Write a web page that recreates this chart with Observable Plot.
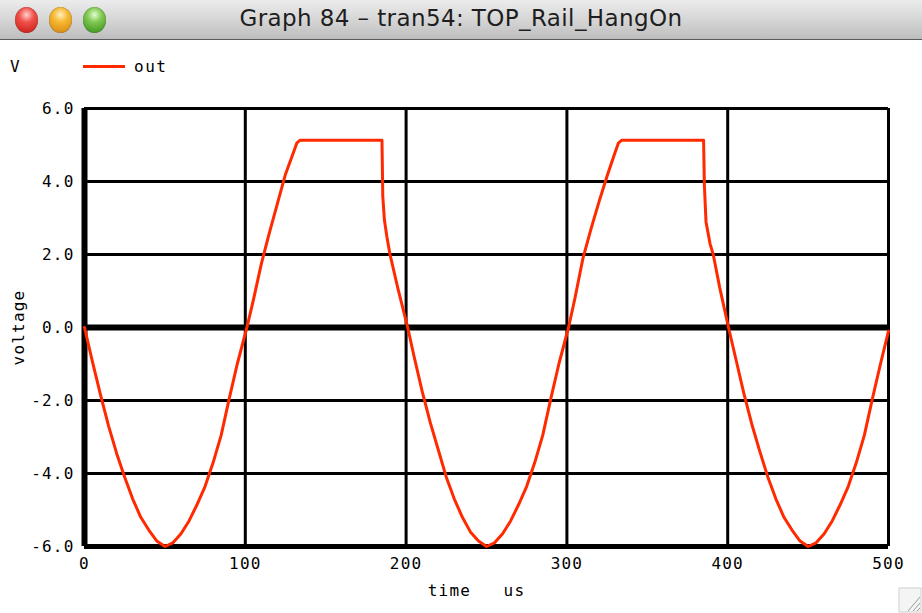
<!DOCTYPE html>
<html>
<head>
<meta charset="utf-8">
<script src="https://cdn.jsdelivr.net/npm/d3@7"></script>
<script src="https://cdn.jsdelivr.net/npm/@observablehq/plot@0.6"></script>
<style>
  html, body { margin: 0; padding: 0; background: #fff; width: 922px; height: 613px; overflow: hidden; }
  #titlebar {
    position: relative; height: 39px; border-bottom: 1px solid #5a5a5a;
    background: linear-gradient(#ececec, #d6d6d6 50%, #bdbdbd);
  }
  #title {
    position: absolute; left: 0; right: 0; top: 5px; text-align: center;
    font-family: "DejaVu Sans", sans-serif; font-size: 23px; color: #1e1e1e; letter-spacing: 0.4px;
  }
  .light { position: absolute; top: 7px; width: 23px; height: 26px; border-radius: 50%; box-shadow: inset 0 0 1px rgba(0,0,0,0.6); }
  #red { left: 15px; background: radial-gradient(circle at 50% 30%, #ffd0cc 0%, #f0504a 35%, #c01810 100%); }
  #orange { left: 49px; background: radial-gradient(circle at 50% 30%, #fff0c0 0%, #f6b830 35%, #d08010 100%); }
  #green { left: 83px; background: radial-gradient(circle at 50% 30%, #e0ffd0 0%, #80c850 35%, #308a18 100%); }
  #wrap { position: relative; width: 922px; height: 573px; }
  #legend { position: absolute; left: 0; top: 17px; width: 300px; height: 20px; font-family: "DejaVu Sans Mono", monospace; font-size: 16px; }
  #legend .v { position: absolute; left: 10px; top: 0px; }
  #legend .sw { position: absolute; left: 83px; top: 8px; width: 42px; height: 3px; background: #ff2a00; }
  #legend .name { position: absolute; left: 134px; top: 0px; letter-spacing: 1.5px; }
  #grip { position: absolute; right: 0; bottom: 0; }
</style>
</head>
<body>
<div id="titlebar">
  <div class="light" id="red"></div>
  <div class="light" id="orange"></div>
  <div class="light" id="green"></div>
  <div id="title">Graph 84 – tran54: TOP_Rail_HangOn</div>
</div>
<div id="wrap">
  <div id="legend"><span class="v">V</span><span class="sw"></span><span class="name">out</span></div>
  <div id="chart"></div>
  <svg id="grip" width="24" height="28" viewBox="0 0 24 28">
    <rect x="1" y="3" width="22" height="24" fill="#f4f4f4" stroke="#d0d0d0"/>
    <path d="M10 26 L22 12 M15 26 L22 18 M19 26 L22 23" stroke="#999" stroke-width="1"/>
  </svg>
</div>
<script>
// time in microseconds, output voltage in volts
const time = [0, 5, 10, 15, 20, 25, 30, 35, 40, 45, 50, 55, 60, 65, 70, 75, 80, 85, 90, 95,
  101, 105, 110, 115, 120, 125, 130, 132, 134, 185, 185.5, 186.5, 188, 190, 195,
  201, 205, 210, 215, 220, 225, 230, 235, 240, 245, 250, 255, 260, 265, 270, 275, 280, 285, 290, 295,
  301, 305, 310, 315, 320, 325, 330, 332, 334, 385, 385.5, 386.5, 389, 391, 395,
  400.5, 405, 410, 415, 420, 425, 430, 435, 440, 445, 450, 455, 460, 465, 470, 475, 480, 485, 490, 495, 500];
const out = [0, -0.95, -1.85, -2.7, -3.45, -4.1, -4.7, -5.2, -5.55, -5.85, -6.0, -5.9, -5.65, -5.3, -4.85, -4.35, -3.7, -2.95, -1.95, -1.0,
  0, 0.75, 1.75, 2.6, 3.4, 4.2, 4.8, 5.05, 5.13, 5.13, 3.6, 2.95, 2.5, 2.0, 1.05,
  0, -0.8, -1.75, -2.6, -3.35, -4.1, -4.7, -5.2, -5.6, -5.85, -6.0, -5.9, -5.65, -5.3, -4.85, -4.35, -3.7, -2.95, -1.95, -1.0,
  0, 0.8, 1.9, 2.7, 3.45, 4.15, 4.8, 5.05, 5.13, 5.13, 3.9, 2.9, 2.3, 2.0, 1.1,
  0, -0.85, -1.8, -2.65, -3.4, -4.1, -4.7, -5.2, -5.55, -5.85, -6.0, -5.9, -5.65, -5.3, -4.85, -4.35, -3.7, -2.95, -1.95, -1.0, -0.1];
const xTicks = [0, 100, 200, 300, 400, 500];
const yTicks = [-6, -4, -2, 0, 2, 4, 6];
const gridX = [100, 200, 300, 400];
const gridY = [-4, -2, 2, 4, 6];
const xLabel = "time\u00a0\u00a0\u00a0us";
const yLabel = "voltage";

const data = time.map((t, i) => ({time: t, out: out[i]}));

const chart = Plot.plot({
  width: 922,
  height: 573,
  marginLeft: 84,
  marginRight: 34,
  marginTop: 68,
  marginBottom: 67,
  style: {fontFamily: "'DejaVu Sans Mono', monospace", fontSize: "16px", color: "#000", background: "#fff", letterSpacing: "1.2px"},
  x: {domain: [0, 500]},
  y: {domain: [-6, 6]},
  marks: [
    Plot.ruleX(gridX, {stroke: "#000", strokeWidth: 3}),
    Plot.ruleX([500], {stroke: "#000", strokeWidth: 3}),
    Plot.ruleY(gridY, {stroke: "#000", strokeWidth: 3}),
    Plot.ruleY([0], {stroke: "#000", strokeWidth: 6}),
    Plot.ruleY([-6], {stroke: "#000", strokeWidth: 5}),
    Plot.ruleX([0], {stroke: "#000", strokeWidth: 6}),
    Plot.line(data, {x: "time", y: "out", stroke: "#ff2a00", strokeWidth: 3}),
    Plot.axisY(yTicks, {tickSize: 0, tickPadding: 10, tickFormat: d => d.toFixed(1), label: null}),
    Plot.axisX(xTicks, {tickSize: 0, tickPadding: 11, tickFormat: d => String(d), label: null}),
    Plot.text([xLabel], {frameAnchor: "bottom", dx: -10, dy: 49}),
    Plot.text([yLabel], {frameAnchor: "left", textAnchor: "middle", rotate: -90, dx: -66})
  ]
});
document.getElementById("chart").appendChild(chart);
</script>
</body>
</html>
